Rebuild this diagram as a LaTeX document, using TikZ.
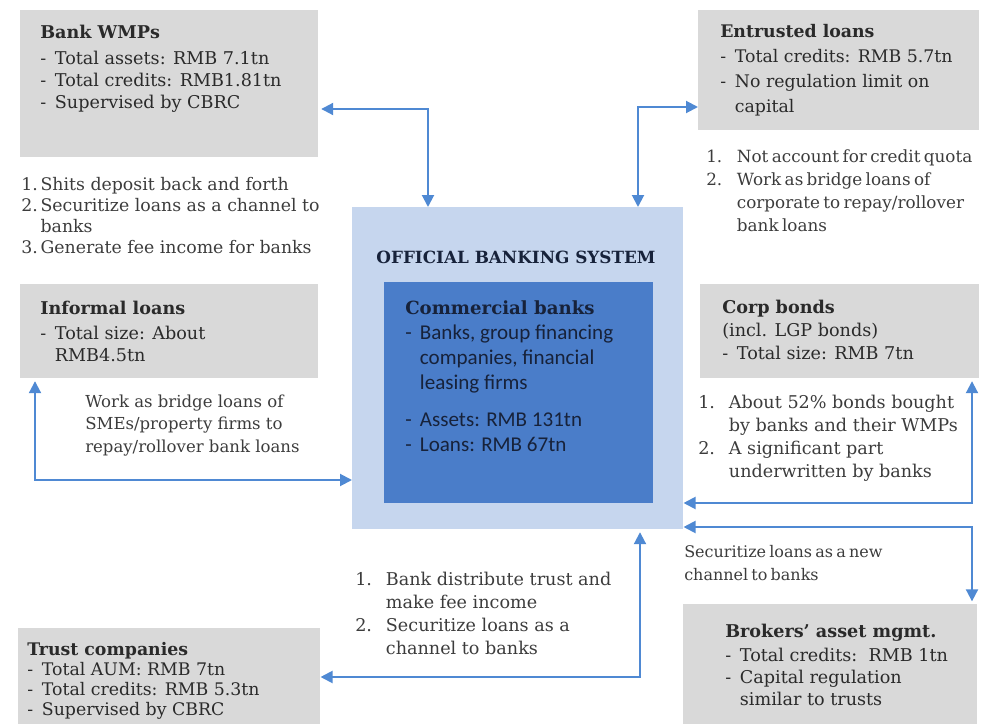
\documentclass[tikz,border=0pt]{standalone}
\usepackage{fontspec}
\setmainfont{DejaVu Serif}
\newfontfamily\calib{Carlito}
\usetikzlibrary{arrows.meta}

\definecolor{boxgray}{HTML}{D9D9D9}
\definecolor{outerblue}{HTML}{C6D6EE}
\definecolor{innerblue}{HTML}{4A7DC9}
\definecolor{arrblue}{HTML}{4F89D3}
\definecolor{navy}{HTML}{17223A}
\definecolor{txtdark}{HTML}{2A2A2A}
\definecolor{txtnote}{HTML}{3C3C3C}

% one text block: rows set at a fixed baseline distance, baseline = first row
\newcommand{\blk}[1]{\renewcommand{\arraystretch}{1}\begin{tabular}[t]{@{}l@{}}#1\end{tabular}}
\newcommand{\di}{\makebox[11pt][l]{-}}
\newcommand{\dd}{\hspace*{11pt}}
\newcommand{\nm}[1]{\makebox[14.5pt][l]{#1}}
\newcommand{\nn}{\hspace*{14.5pt}}
\newcommand{\nw}[1]{\makebox[23pt][l]{#1}}
\newcommand{\nnw}{\hspace*{23pt}}
\newcommand{\tightspace}{\spaceskip=0.2em plus 0.1em minus 0.05em\relax}

\begin{document}
\begin{tikzpicture}[x=0.75pt,y=-0.75pt,
  gbox/.style={fill=boxgray, draw=none, anchor=north west, inner sep=0pt},
  txt/.style={anchor=base west, inner sep=0pt, text=txtdark,
    font=\fontsize{13.2pt}{16.5pt}\selectfont},
  note/.style={anchor=base west, inner sep=0pt, text=txtnote,
    font=\fontsize{13.2pt}{16.9pt}\selectfont},
  cbtxt/.style={anchor=base west, inner sep=0pt, text=navy,
    font=\calib\fontsize{15.8pt}{18.75pt}\selectfont},
  biarrow/.style={draw=arrblue, line width=1.5pt,
    {Triangle[width=9pt,length=9pt]}-{Triangle[width=9pt,length=9pt]}}
]
\useasboundingbox (0,0) rectangle (982,724);

% ---- boxes ----
\node[gbox, minimum width=223.5pt, minimum height=110.25pt] (wmp) at (20,10) {};
\node[gbox, minimum width=210.75pt, minimum height=90pt] (ent) at (698,10) {};
\node[gbox, minimum width=223.5pt, minimum height=70.5pt] (inf) at (20,284) {};
\node[gbox, minimum width=209.25pt, minimum height=70.5pt] (corp) at (700,284) {};
\node[gbox, minimum width=220.5pt, minimum height=90pt] (brk) at (683,604) {};
\node[gbox, minimum width=226.5pt, minimum height=72pt] (trust) at (18,628) {};
\node[anchor=north west, inner sep=0pt, fill=outerblue,
  minimum width=248.25pt, minimum height=241.5pt] (obs) at (352,207) {};
\node[anchor=north west, inner sep=0pt, fill=innerblue,
  minimum width=201.75pt, minimum height=165.75pt] (cb) at (384,282) {};

% ---- official banking system ----
\node[anchor=base, inner sep=0pt, text=navy,
  font=\bfseries\fontsize{12.6pt}{15pt}\selectfont] (obstitle) at (516,263)
  {OFFICIAL BANKING SYSTEM};
\node[cbtxt] (cbtext) at (405,314) {\blk{%
  {\rmfamily\bfseries\fontsize{13.6pt}{16pt}\selectfont Commercial banks}\\
  \di Banks, group financing\\
  \dd companies, financial\\
  \dd leasing firms\\[9.5pt]
  \di Assets: RMB 131tn\\
  \di Loans: RMB 67tn}};

% ---- box texts ----
\node[txt] (wmptext) at (40,39) {\blk{%
  \textbf{Bank WMPs}\\[2.5pt]
  \di Total assets: RMB 7.1tn\\
  \di Total credits: RMB1.81tn\\
  \di Supervised by CBRC}};
\node[txt, font=\fontsize{13pt}{18.75pt}\selectfont] (enttext) at (720,38) {\blk{%
  \textbf{Entrusted loans}\\
  \di Total credits: RMB 5.7tn\\
  \di No regulation limit on\\
  \dd capital}};
\node[txt] (inftext) at (40,314) {\blk{%
  \textbf{Informal loans}\\[2.5pt]
  \di Total size: About\\
  \dd RMB4.5tn}};
\node[txt, font=\fontsize{13.2pt}{17.25pt}\selectfont] (corptext) at (722,313) {\blk{%
  \textbf{Corp bonds}\\
  (incl. LGP bonds)\\
  \di Total size: RMB 7tn}};
\node[txt] (brktext) at (725,637) {\blk{%
  \textbf{Brokers’ asset mgmt.}\\[2pt]
  \di Total credits:\ \ RMB 1tn\\
  \di Capital regulation\\
  \dd similar to trusts}};
\node[txt, font=\fontsize{13pt}{15.2pt}\selectfont] (trusttext) at (27,655) {\blk{%
  \textbf{Trust companies}\\
  \di Total AUM: RMB 7tn\\
  \di Total credits: RMB 5.3tn\\
  \di Supervised by CBRC}};

% ---- notes beside the connectors ----
\node[note, font=\fontsize{13pt}{15.9pt}\selectfont] (wmpnote) at (21,190) {\blk{%
  \nm{1.}Shits deposit back and forth\\
  \nm{2.}Securitize loans as a channel to\\
  \nn banks\\
  \nm{3.}Generate fee income for banks}};
\node[note, font=\fontsize{12.6pt}{17.25pt}\selectfont\tightspace] (entnote) at (706,162) {\blk{%
  \nw{1.}Not account for credit quota\\
  \nw{2.}Work as bridge loans of\\
  \nnw corporate to repay/rollover\\
  \nnw bank loans}};
\node[note, font=\fontsize{12.4pt}{16.9pt}\selectfont] (infnote) at (85,407) {\blk{%
  Work as bridge loans of\\
  SMEs/property firms to\\
  repay/rollover bank loans}};
\node[note, font=\fontsize{13.2pt}{17.25pt}\selectfont] (corpnote) at (698,408) {\blk{%
  \nw{1.}About 52\% bonds bought\\
  \nnw by banks and their WMPs\\
  \nw{2.}A significant part\\
  \nnw underwritten by banks}};
\node[note, font=\fontsize{12pt}{17.25pt}\selectfont\tightspace] (brknote) at (684,557) {\blk{%
  Securitize loans as a new\\
  channel to banks}};
\node[note, font=\fontsize{13.2pt}{17.25pt}\selectfont] (trustnote) at (355,585) {\blk{%
  \nw{1.}Bank distribute trust and\\
  \nnw make fee income\\
  \nw{2.}Securitize loans as a\\
  \nnw channel to banks}};

% ---- connectors ----
\coordinate (b1) at (428,109);
\coordinate (b2) at (638,107);
\coordinate (b3) at (35,480);
\coordinate (b4) at (972,503);
\coordinate (b5) at (972,527);
\coordinate (b6) at (640,677);

\draw[biarrow] ([xshift=2pt]b1 -| wmp.east) -- (b1) -- (b1 |- obs.north);
\draw[biarrow] (b2 |- obs.north) -- (b2) -- (b2 -| ent.west);
\draw[biarrow] ([yshift=-2pt]b3 |- inf.south) -- (b3) -- (b3 -| obs.west);
\draw[biarrow] ([yshift=-2pt]b4 |- corp.south) -- (b4) -- (b4 -| obs.east);
\draw[biarrow] (b5 -| obs.east) -- (b5) -- ([yshift=2pt]b5 |- brk.north);
\draw[biarrow] ([yshift=-2pt]b6 |- obs.south) -- (b6) -- (b6 -| trust.east);
\end{tikzpicture}
\end{document}
